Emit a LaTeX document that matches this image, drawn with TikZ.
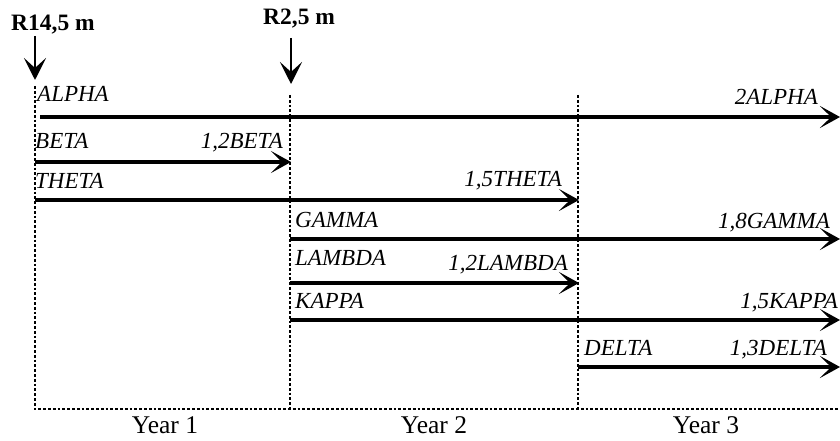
\documentclass[tikz,border=0pt]{standalone}
\usepackage{fontspec}
\setmainfont{Liberation Serif}
\usetikzlibrary{arrows.meta}
\begin{document}
\begin{tikzpicture}[x=1pt,y=-1pt,
  flow/.style={line width=3.2pt,-{Stealth[length=20pt,width=22pt,inset=11pt]}},
  down/.style={line width=2.8pt,-{Stealth[length=22pt,width=22pt,inset=10pt]}},
  grid/.style={line width=2.8pt,dotted},
  lab/.style={inner sep=0pt,font=\fontsize{23}{23}\selectfont\itshape},
  head/.style={inner sep=0pt,font=\fontsize{23.5}{23.5}\selectfont\bfseries},
  yr/.style={inner sep=0pt,font=\fontsize{25.5}{25.5}\selectfont}]
\useasboundingbox (0,0) rectangle (840,441);
% grid
\coordinate (v1t) at (35,86); \coordinate (v1b) at (35,409);
\coordinate (v2t) at (290,95); \coordinate (v2b) at (290,409);
\coordinate (v3t) at (578,95); \coordinate (v3b) at (578,409);
\coordinate (hr) at (840,409);
\draw[grid] (v1t) -- (v1b) -- (hr);
\draw[grid] (v2t) -- (v2b);
\draw[grid] (v3t) -- (v3b);
% year labels
\node[yr,anchor=base] (y1) at (165,433) {Year 1};
\node[yr,anchor=base] (y2) at (434,433) {Year 2};
\node[yr,anchor=base] (y3) at (706,433) {Year 3};
% heads
\node[head,anchor=base west] (r1) at (11,31) {R14,5 m};
\node[head,anchor=base west] (r2) at (263,25) {R2,5 m};
\coordinate (d1s) at (35,36); \coordinate (d1e) at (35,80);
\coordinate (d2s) at (291,38); \coordinate (d2e) at (291,84);
\draw[down] (d1s) -- (d1e);
\draw[down] (d2s) -- (d2e);
% ALPHA
\coordinate (a1) at (40,117); \coordinate (a2) at (840,117);
\draw[flow] (a1) -- (a2);
\node[lab,anchor=base west] (la1) at (37,102) {ALPHA};
\node[lab,anchor=base east] (la2) at (818,105) {2ALPHA};
% BETA
\coordinate (b1) at (35,162); \coordinate (b2) at (291,162);
\draw[flow] (b1) -- (b2);
\node[lab,anchor=base west] (lb1) at (35,149) {BETA};
\node[lab,anchor=base east] (lb2) at (283,149) {1,2BETA};
% THETA
\coordinate (t1) at (35,200); \coordinate (t2) at (579,200);
\draw[flow] (t1) -- (t2);
\node[lab,anchor=base west] (lt1) at (35,188) {THETA};
\node[lab,anchor=base east] (lt2) at (562,186) {1,5THETA};
% GAMMA
\coordinate (g1) at (290,239); \coordinate (g2) at (840,239);
\draw[flow] (g1) -- (g2);
\node[lab,anchor=base west] (lg1) at (295,227) {GAMMA};
\node[lab,anchor=base east] (lg2) at (830,228) {1,8GAMMA};
% LAMBDA
\coordinate (l1) at (290,283); \coordinate (l2) at (579,283);
\draw[flow] (l1) -- (l2);
\node[lab,anchor=base west] (ll1) at (295,265) {LAMBDA};
\node[lab,anchor=base east] (ll2) at (568,270) {1,2LAMBDA};
% KAPPA
\coordinate (k1) at (290,320); \coordinate (k2) at (840,320);
\draw[flow] (k1) -- (k2);
\node[lab,anchor=base west] (lk1) at (295,308) {KAPPA};
\node[lab,anchor=base east] (lk2) at (838,308) {1,5KAPPA};
% DELTA
\coordinate (e1) at (578,367); \coordinate (e2) at (840,367);
\draw[flow] (e1) -- (e2);
\node[lab,anchor=base west] (le1) at (584,355) {DELTA};
\node[lab,anchor=base east] (le2) at (827,355) {1,3DELTA};
\end{tikzpicture}
\end{document}
